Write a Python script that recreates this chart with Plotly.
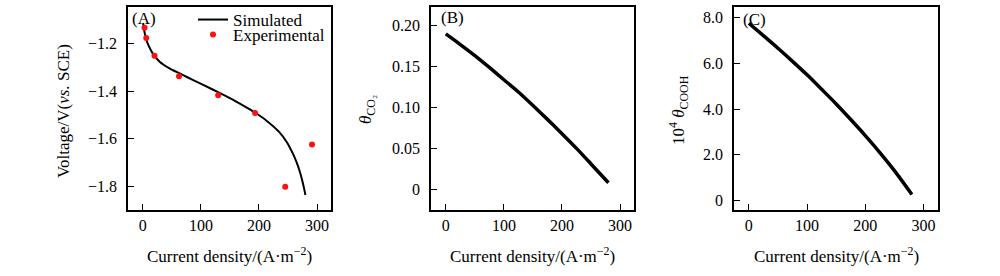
import plotly.graph_objects as go

# ---- data ----
sim_current = [0.5, 2, 4, 6, 10, 17, 29, 46, 75, 104, 133, 160, 179, 190, 213, 235, 248, 258, 265, 270, 274, 277, 280]
sim_voltage = [-1.115, -1.14, -1.165, -1.185, -1.21, -1.242, -1.277, -1.305, -1.340, -1.374, -1.409, -1.443,
               -1.469, -1.485, -1.524, -1.572, -1.614, -1.660, -1.700, -1.735, -1.770, -1.800, -1.835]
exp_current = [2.9, 5.9, 20.2, 62.3, 129.8, 193.3, 245.2, 291.3]
exp_voltage = [-1.135, -1.178, -1.252, -1.338, -1.418, -1.492, -1.801, -1.624]

cov_current = [0, 25, 50, 75, 100, 125, 150, 175, 200, 225, 250, 280]
theta_co2 = [0.190, 0.177, 0.1635, 0.149, 0.134, 0.119, 0.1025, 0.0855, 0.068, 0.050, 0.031, 0.008]
theta_cooh_e4 = [7.74, 7.20, 6.65, 6.08, 5.49, 4.86, 4.22, 3.54, 2.84, 2.10, 1.31, 0.27]

x_ticks = [0, 100, 200, 300]
ya_ticks = [-1.8, -1.6, -1.4, -1.2]
ya_text = ["\u22121.8", "\u22121.6", "\u22121.4", "\u22121.2"]
yb_ticks = [0, 0.05, 0.10, 0.15, 0.20]
yb_text = ["0", "0.05", "0.10", "0.15", "0.20"]
yc_ticks = [0, 2, 4, 6, 8]
yc_text = ["0", "2.0", "4.0", "6.0", "8.0"]

W, H = 1000, 276
FONT = "Liberation Serif, Times New Roman, serif"
TICKF = 16
TITLEF = 17

fig = go.Figure()
fig.add_trace(go.Scatter(x=sim_current, y=sim_voltage, mode="lines", name="Simulated",
                         line=dict(color="black", width=2, shape="spline", smoothing=0.6),
                         xaxis="x", yaxis="y", legend="legend"))
fig.add_trace(go.Scatter(x=exp_current, y=exp_voltage, mode="markers", name="Experimental",
                         marker=dict(color="#ff1010", size=6), xaxis="x", yaxis="y", legend="legend2"))
fig.add_trace(go.Scatter(x=cov_current, y=theta_co2, mode="lines", showlegend=False,
                         line=dict(color="black", width=3.5, shape="spline", smoothing=0.8),
                         xaxis="x2", yaxis="y2"))
fig.add_trace(go.Scatter(x=cov_current, y=theta_cooh_e4, mode="lines", showlegend=False,
                         line=dict(color="black", width=3.5, shape="spline", smoothing=0.8),
                         xaxis="x3", yaxis="y3"))

ytop = 1 - 7 / H
ybot = 1 - 210 / H

def xax(l, r, anchor):
    return dict(domain=[l / W, r / W], range=[-25.5, 324], anchor=anchor,
                tickvals=x_ticks, ticks="inside", ticklen=6, tickwidth=1.2, tickcolor="black",
                showline=True, linecolor="black", linewidth=1.5, mirror=True,
                showgrid=False, zeroline=False, ticklabelstandoff=0,
                tickfont=dict(family=FONT, size=TICKF, color="black"))

def yax(rng, vals, text, anchor):
    return dict(domain=[ybot, ytop], range=rng, anchor=anchor,
                tickvals=vals, ticktext=text, ticks="inside", ticklen=6, tickwidth=1.2, tickcolor="black",
                showline=True, linecolor="black", linewidth=1.5, mirror=True,
                showgrid=False, zeroline=False, ticklabelstandoff=6,
                tickfont=dict(family=FONT, size=TICKF, color="black"))

ann = []
def txt(x, y, s, xanchor="center", **kw):
    d = dict(x=x / W, y=1 - y / H, xref="paper", yref="paper", text=s, showarrow=False,
             xanchor=xanchor, yanchor="middle",
             font=dict(family=FONT, size=TITLEF, color="black"))
    d.update(kw)
    ann.append(d)

xtitle = "Current density/(A\u00b7m<sup>\u22122</sup>)"
txt(229.5, 255, xtitle)
txt(532.5, 255, xtitle)
txt(836, 255, xtitle)
txt(63, 111, "Voltage/V(<i>vs.</i> SCE)", textangle=-90)
txt(367, 110, "<i>\u03b8</i><sub>CO\u2082</sub>", textangle=-90)
txt(678, 110, "10<sup>4</sup> <i>\u03b8</i><sub>COOH</sub>", textangle=-90)
txt(130, 19, "(A)", xanchor="left")
txt(439, 18, "(B)", xanchor="left")
txt(741, 20, "(C)", xanchor="left")

fig.update_layout(
    width=W, height=H, margin=dict(l=0, r=0, t=0, b=0),
    paper_bgcolor="white", plot_bgcolor="white",
    font=dict(family=FONT, size=TITLEF, color="black"),
    xaxis=xax(128, 331, "y"),
    yaxis=yax([-1.898, -1.048], ya_ticks, ya_text, "x"),
    xaxis2=xax(431, 634, "y2"),
    yaxis2=yax([-0.0253, 0.2229], yb_ticks, yb_text, "x2"),
    xaxis3=xax(734, 937.5, "y3"),
    yaxis3=yax([-0.405, 8.45], yc_ticks, yc_text, "x3"),
    legend=dict(x=193 / W, y=1 - 20 / H, xanchor="left", yanchor="middle", bgcolor="rgba(0,0,0,0)",
                borderwidth=0, font=dict(family=FONT, size=TITLEF, color="black")),
    legend2=dict(x=193 / W, y=1 - 35 / H, xanchor="left", yanchor="middle", bgcolor="rgba(0,0,0,0)",
                 borderwidth=0, font=dict(family=FONT, size=TITLEF, color="black")),
    annotations=ann,
)

fig.write_html("out.html")
